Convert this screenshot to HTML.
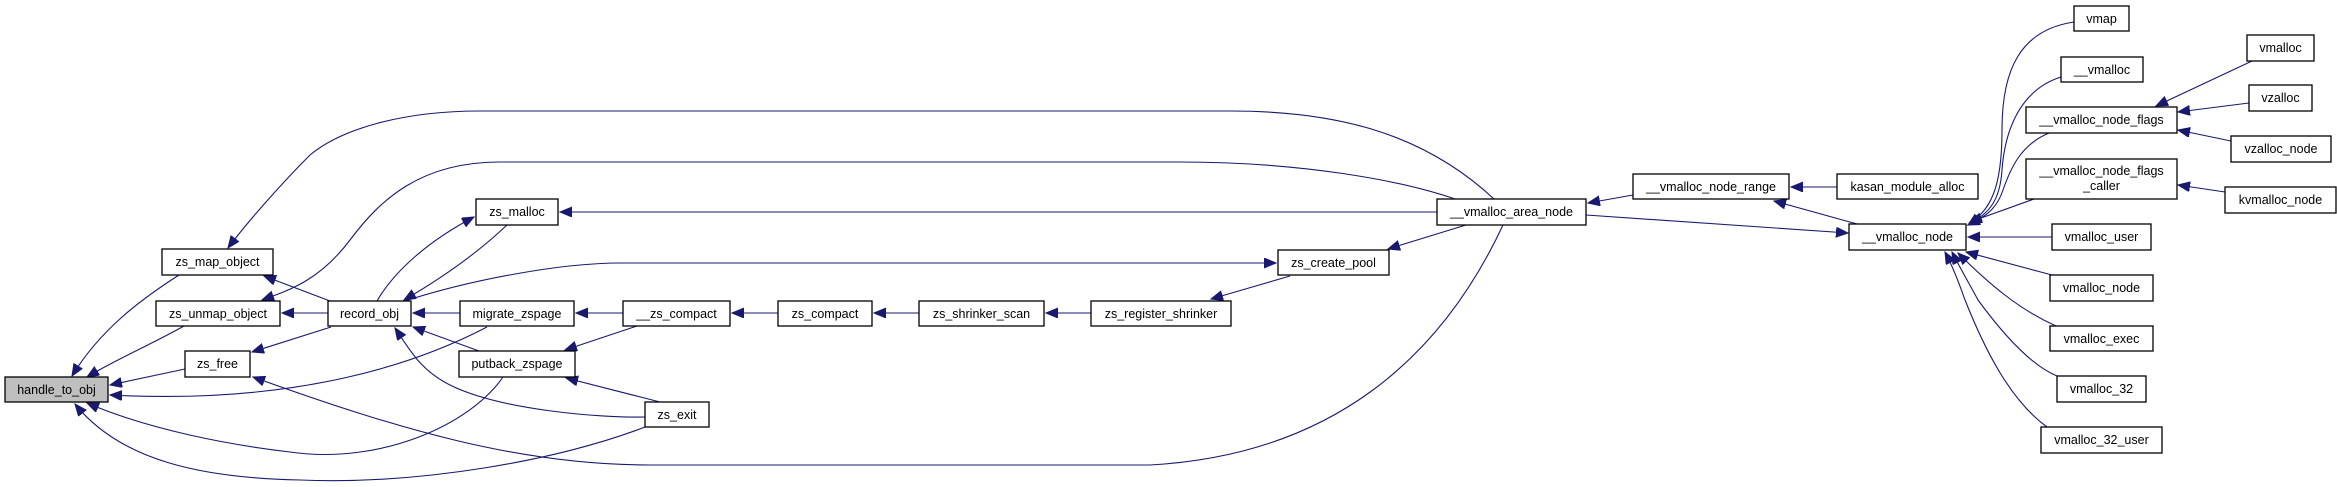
<!DOCTYPE html>
<html><head><meta charset="utf-8"><style>
html,body{margin:0;padding:0;background:#fff;}
svg{display:block;}
text{font-family:"Liberation Sans",Helvetica,Arial,sans-serif;font-size:12.5px;fill:#000;text-anchor:middle;}
.n{fill:#fff;stroke:#000;stroke-width:1.3;}
.e{fill:none;stroke:#191970;stroke-width:1.1;marker-end:url(#a);}
</style></head><body>
<svg width="2337" height="487" viewBox="0 0 2337 487" xmlns="http://www.w3.org/2000/svg">
<defs><marker id="a" markerUnits="userSpaceOnUse" markerWidth="14" markerHeight="12" refX="12" refY="5" orient="auto"><path d="M0,0 L12,5 L0,10 z" fill="#191970" stroke="#191970"/></marker></defs>
<g>
<path class="e" d="M179,275 C140,300 100,330 72,376"/>
<path class="e" d="M184,326 C150,345 115,360 87,377"/>
<path class="e" d="M185,369 L110,385"/>
<path class="e" d="M487,327 C420,362 300,405 110,395"/>
<path class="e" d="M503,377 C470,425 380,465 290,452 C230,445 150,430 87,403"/>
<path class="e" d="M645,427 C560,460 420,485 300,480 C200,478 120,460 75,404"/>
<path class="e" d="M1494,199 C1420,130 1330,111 1230,111 L480,111 C400,111 340,130 310,155 C280,185 245,225 228,248"/>
<path class="e" d="M1455,199 C1400,180 1300,162 1180,162 L500,162 C420,162 380,200 350,240 C320,280 290,290 262,300"/>
<path class="e" d="M1437,212 L560,212"/>
<path class="e" d="M405,301 C470,280 560,263 620,263 L1276,263"/>
<path class="e" d="M507,225 C470,260 430,285 404,300"/>
<path class="e" d="M377,301 C395,270 430,240 474,217"/>
<path class="e" d="M1466,225 L1388,249"/>
<path class="e" d="M1290,276 L1211,299"/>
<path class="e" d="M1091,313 L1046,313"/>
<path class="e" d="M919,313 L874,313"/>
<path class="e" d="M778,313 L732,313"/>
<path class="e" d="M623,313 L576,313"/>
<path class="e" d="M637,326 L565,350"/>
<path class="e" d="M460,313 L413,313"/>
<path class="e" d="M479,351 L413,327"/>
<path class="e" d="M645,417 C600,418 500,410 450,385 C420,370 410,350 395,328"/>
<path class="e" d="M660,402 L566,378"/>
<path class="e" d="M330,301 L264,276"/>
<path class="e" d="M328,313 L282,313"/>
<path class="e" d="M331,327 L252,352"/>
<path class="e" d="M1503,225 C1440,360 1330,455 1150,465 L650,465 C520,465 400,430 253,377"/>
<path class="e" d="M1633,195 L1588,203"/>
<path class="e" d="M1586,215 L1848,233"/>
<path class="e" d="M1837,187 L1791,187"/>
<path class="e" d="M1857,224 L1774,201"/>
<path class="e" d="M2074,22 C2020,30 2002,70 2002,130 C2002,190 1990,210 1968,225"/>
<path class="e" d="M2061,77 C2020,90 2005,130 2002,170 C2000,200 1990,213 1968,225"/>
<path class="e" d="M2049,133 C2020,145 2010,170 2003,190 C1998,205 1990,215 1968,225"/>
<path class="e" d="M2034,199 L1970,222"/>
<path class="e" d="M2052,237 L1968,237"/>
<path class="e" d="M2052,275 L1966,252"/>
<path class="e" d="M2056,326 C2020,310 1990,285 1958,253"/>
<path class="e" d="M2057,376 C2030,365 2000,330 1978,300 C1970,285 1960,268 1952,252"/>
<path class="e" d="M2047,427 C2010,400 1985,350 1965,300 C1958,280 1952,265 1945,252"/>
<path class="e" d="M2252,61 L2156,106"/>
<path class="e" d="M2249,103 L2178,112"/>
<path class="e" d="M2231,141 L2178,130"/>
<path class="e" d="M2225,192 L2178,185"/>
</g>
<g>
<rect x="5" y="377" width="103" height="25" fill="#bfbfbf" stroke="#000" stroke-width="1.3"/><text x="56.5" y="394">handle_to_obj</text>
<rect class="n" x="162" y="249" width="111" height="26"/><text x="217.5" y="266">zs_map_object</text>
<rect class="n" x="156" y="301" width="124" height="25"/><text x="218" y="318">zs_unmap_object</text>
<rect class="n" x="185" y="351" width="65" height="26"/><text x="217.5" y="368">zs_free</text>
<rect class="n" x="328" y="301" width="83" height="25"/><text x="369.5" y="318">record_obj</text>
<rect class="n" x="476" y="199" width="82" height="26"/><text x="517" y="216">zs_malloc</text>
<rect class="n" x="460" y="301" width="114" height="25"/><text x="517" y="318">migrate_zspage</text>
<rect class="n" x="459" y="351" width="116" height="26"/><text x="517" y="368">putback_zspage</text>
<rect class="n" x="623" y="301" width="107" height="25"/><text x="676.5" y="318">__zs_compact</text>
<rect class="n" x="645" y="402" width="64" height="25"/><text x="677" y="419">zs_exit</text>
<rect class="n" x="778" y="301" width="94" height="25"/><text x="825" y="318">zs_compact</text>
<rect class="n" x="919" y="301" width="125" height="25"/><text x="981.5" y="318">zs_shrinker_scan</text>
<rect class="n" x="1091" y="301" width="140" height="25"/><text x="1161" y="318">zs_register_shrinker</text>
<rect class="n" x="1278" y="250" width="111" height="25"/><text x="1333.5" y="267">zs_create_pool</text>
<rect class="n" x="1437" y="199" width="149" height="26"/><text x="1511.5" y="216">__vmalloc_area_node</text>
<rect class="n" x="1633" y="174" width="156" height="25"/><text x="1711" y="191">__vmalloc_node_range</text>
<rect class="n" x="1837" y="174" width="141" height="25"/><text x="1907.5" y="191">kasan_module_alloc</text>
<rect class="n" x="1849" y="224" width="117" height="26"/><text x="1907.5" y="241">__vmalloc_node</text>
<rect class="n" x="2074" y="6" width="55" height="25"/><text x="2101.5" y="23">vmap</text>
<rect class="n" x="2061" y="57" width="82" height="25"/><text x="2102" y="74">__vmalloc</text>
<rect class="n" x="2026" y="107" width="151" height="26"/><text x="2101.5" y="124">__vmalloc_node_flags</text>
<rect class="n" x="2026" y="159" width="151" height="40"/><text x="2101.5" y="175">__vmalloc_node_flags</text><text x="2101.5" y="190">_caller</text>
<rect class="n" x="2052" y="224" width="99" height="26"/><text x="2101.5" y="241">vmalloc_user</text>
<rect class="n" x="2050" y="275" width="103" height="26"/><text x="2101.5" y="292">vmalloc_node</text>
<rect class="n" x="2050" y="326" width="103" height="25"/><text x="2101.5" y="343">vmalloc_exec</text>
<rect class="n" x="2057" y="376" width="89" height="26"/><text x="2101.5" y="393">vmalloc_32</text>
<rect class="n" x="2041" y="427" width="121" height="26"/><text x="2101.5" y="444">vmalloc_32_user</text>
<rect class="n" x="2247" y="35" width="67" height="26"/><text x="2280.5" y="52">vmalloc</text>
<rect class="n" x="2249" y="85" width="63" height="26"/><text x="2280.5" y="102">vzalloc</text>
<rect class="n" x="2231" y="136" width="100" height="26"/><text x="2281" y="153">vzalloc_node</text>
<rect class="n" x="2225" y="187" width="111" height="26"/><text x="2280.5" y="204">kvmalloc_node</text>
</g>
</svg>
</body></html>
